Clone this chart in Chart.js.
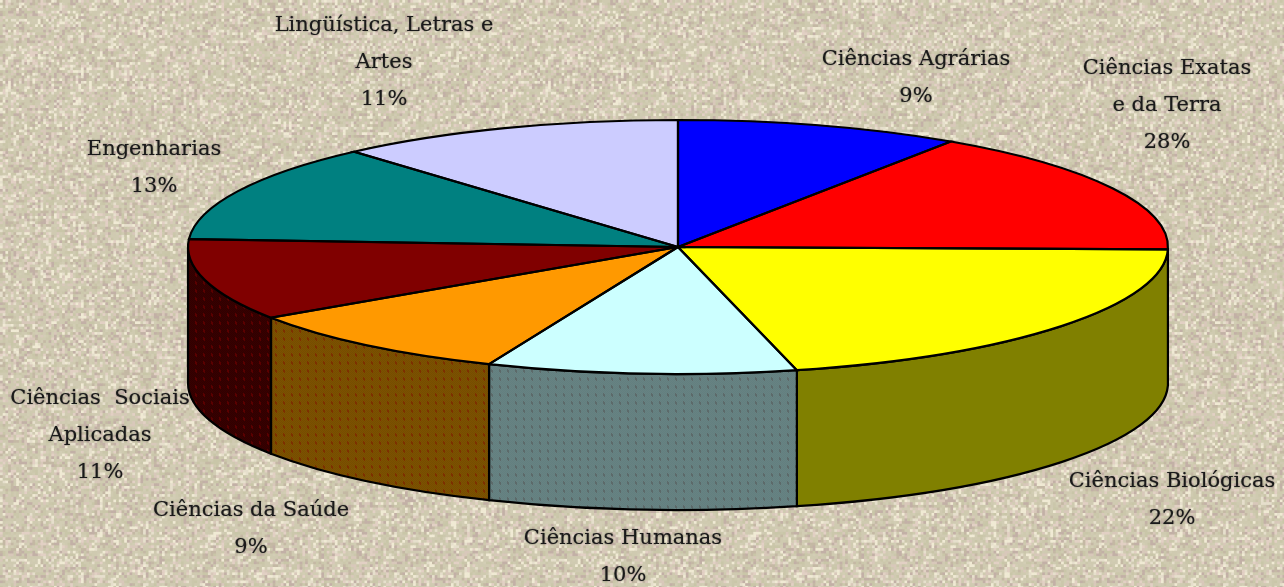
<!DOCTYPE html>
<html>
<head>
<meta charset="utf-8">
<style>html,body{margin:0;padding:0;background:#d2cab4;overflow:hidden}canvas{display:block}</style>
<script src="https://cdn.jsdelivr.net/npm/chart.js@4/dist/chart.umd.js"></script>
</head>
<body>
<canvas id="c" width="1284" height="587"></canvas>
<script>
// Areas as named in the chart
const categories = ["Ciências Agrárias","Ciências Exatas e da Terra","Ciências Biológicas","Ciências Humanas","Ciências da Saúde","Ciências Sociais Aplicadas","Engenharias","Lingüística, Letras e Artes"];
// Slice sizes as drawn (share of the circle)
const sliceValues = [9.4,15.9,20.8,10.2,9.3,10.4,12.5,11.5];
// Percentages as printed on the labels
const printedPercents = ["9%","28%","22%","10%","9%","11%","13%","11%"];
const labelLines = [["Ciências Agrárias"],["Ciências Exatas","e da Terra"],["Ciências Biológicas"],["Ciências Humanas"],["Ciências da Saúde"],["Ciências  Sociais","Aplicadas"],["Engenharias"],["Lingüística, Letras e","Artes"]];

const topColors = ["#0000ff","#ff0000","#ffff00","#ccffff","#ff9900","#800000","#008080","#ccccff"];
const labelAnchors = [[916,60],[1167,69],[1172,482],[623,539],[251,511],[100,399],[154,150],[384,26]];
const LINE_H = 37;
const CX = 678, CY = 247, RX = 490, RY = 127, DEPTH = 136, R = 240;

function tile(base, dot, cell){
  const t = document.createElement('canvas'); t.width = t.height = 8;
  const g = t.getContext('2d');
  g.fillStyle = base; g.fillRect(0,0,8,8);
  g.fillStyle = cell;
  for(let y=0;y<8;y++)for(let x=0;x<8;x++) if((x+y)%2===0) g.fillRect(x,y,1,1);
  g.fillStyle = dot;
  g.fillRect(3,2,2,1);g.fillRect(3,3,2,1);g.fillRect(3,1,1,1);g.fillRect(4,4,1,1);
  return t;
}
function wallFill(ctx,i){
  if(i===2) return "#808000";
  if(i===3) return ctx.createPattern(tile("#688282","#5c6a6a","#628080"),'repeat');
  if(i===4) return ctx.createPattern(tile("#7e5000","#7c3000","#744e00"),'repeat');
  if(i===5) return ctx.createPattern(tile("#380000","#5a0000","#300000"),'repeat');
  return "#808080";
}
function makeTexture(){
  const n = 540, cell = 2.7, cols = 200;
  const t = document.createElement('canvas'); t.width = t.height = n;
  const g = t.getContext('2d');
  const pal = ["#cfcab0","#cbc7ab","#d2cdb4","#c9c6a8","#cfcab0","#d0cab2","#e6dfcc","#f0ead4","#e2d0c4","#d8c8ba","#c4b8a4","#c2b0a6"];
  let s = 2463534242;
  for(let r=0;r<cols;r++)for(let q=0;q<cols;q++){
    s ^= s<<13; s ^= s>>>17; s ^= s<<5; s >>>= 0;
    const k = s%pal.length;
    g.fillStyle = pal[k]; g.fillRect(q*cell,r*cell,cell+0.5,cell+0.5);
  }
  const b = document.createElement('canvas'); b.width = b.height = n;
  const h = b.getContext('2d');
  h.filter = 'blur(0.5px)';
  h.drawImage(t,0,0);
  return b;
}
const tex = makeTexture();

const pie3d = {
  id:'pie3d',
  beforeDraw(chart){
    const c = chart.ctx;
    c.save();
    c.fillStyle = c.createPattern(tex,'repeat');
    c.fillRect(0,0,chart.width,chart.height);
    c.restore();
  },
  beforeDatasetsDraw(chart){
    const c = chart.ctx, arcs = chart.getDatasetMeta(0).data;
    const sx = RX/R, sy = RY/R;
    const ax = arcs[0].x, ay = arcs[0].y;
    c.save();
    arcs.forEach((a,i)=>{
      const a1 = Math.max(a.startAngle,0), a2 = Math.min(a.endAngle,Math.PI);
      if(a2<=a1 || a2-a1<0.05) return;
      c.beginPath();
      c.ellipse(ax,ay,a.outerRadius*sx,a.outerRadius*sy,0,a1,a2);
      c.ellipse(ax,ay+DEPTH,a.outerRadius*sx,a.outerRadius*sy,0,a2,a1,true);
      c.closePath();
      c.fillStyle = wallFill(c,i); c.fill();
      c.strokeStyle = "#000"; c.lineWidth = 2.2; c.stroke();
    });
    c.restore();
    c.save();
    c.translate(ax,ay); c.scale(sx,sy); c.translate(-ax,-ay);
  },
  afterDatasetsDraw(chart){
    const c = chart.ctx, arcs = chart.getDatasetMeta(0).data;
    c.restore();
    const sx = RX/R, sy = RY/R;
    arcs.forEach(a=>{
      c.beginPath();
      c.moveTo(a.x,a.y);
      c.ellipse(a.x,a.y,a.outerRadius*sx,a.outerRadius*sy,0,a.startAngle,a.endAngle);
      c.closePath();
      c.strokeStyle = "#000"; c.lineWidth = 2.2; c.stroke();
    });
    // labels
    c.save();
    c.font = '21px "DejaVu Serif"';
    c.fillStyle = "#1a1a1a";
    c.shadowColor = "rgba(20,20,20,0.6)"; c.shadowBlur = 1.5;
    c.textAlign = 'center'; c.textBaseline = 'middle';
    labelLines.forEach((lines,i)=>{
      const all = lines.concat(printedPercents[i]);
      all.forEach((t,k)=> c.fillText(t,labelAnchors[i][0],labelAnchors[i][1]+k*LINE_H));
    });
    c.restore();
  }
};

new Chart(document.getElementById('c'),{
  type:'pie',
  data:{labels:categories,datasets:[{data:sliceValues,backgroundColor:topColors,borderWidth:0,clip:false}]},
  options:{
    responsive:false,animation:false,
    layout:{padding:{left:CX-R,right:1284-CX-R,top:CY-R,bottom:587-CY-R}},
    plugins:{legend:{display:false},tooltip:{enabled:false}},
    events:[]
  },
  plugins:[pie3d]
});
</script>
</body>
</html>
